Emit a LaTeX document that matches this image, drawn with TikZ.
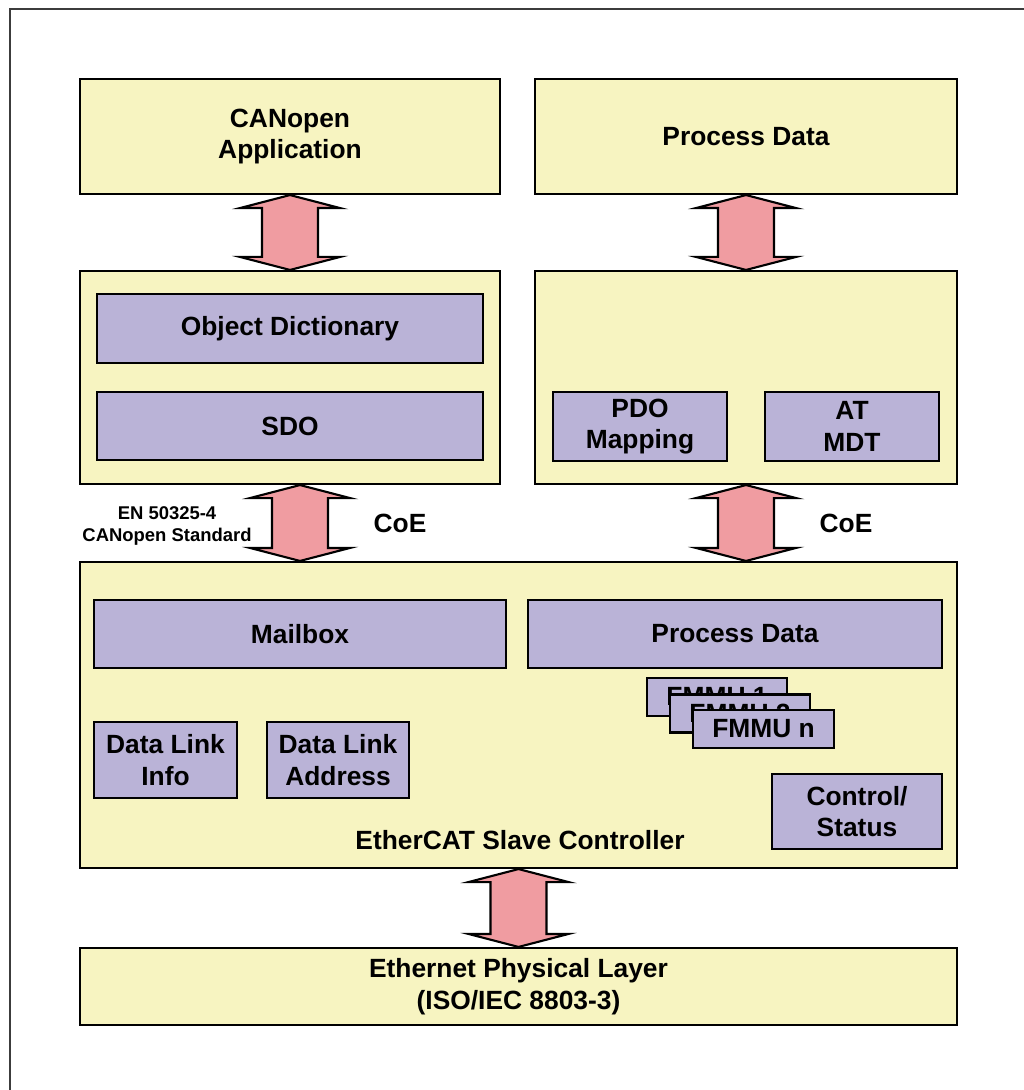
\documentclass[tikz,border=0pt]{standalone}
\usepackage{fontspec}
\setmainfont{Liberation Sans}
\usepackage{xcolor}
\usepackage{tikz}
\usetikzlibrary{calc}

\definecolor{layeryellow}{RGB}{247,244,193}
\definecolor{blockviolet}{RGB}{186,179,215}
\definecolor{arrowpink}{RGB}{240,156,161}
\definecolor{framegray}{RGB}{60,60,60}

\begin{document}
\begin{tikzpicture}[font=\bfseries\fontsize{15}{18}\selectfont,
    layer/.style={draw, line width=1.2pt, fill=layeryellow, align=center, inner sep=0pt},
    block/.style={draw, line width=1.2pt, fill=blockviolet, align=center, inner sep=0pt},
    dblarrow/.style={draw, line width=1.2pt, fill=arrowpink, line join=miter,
      to path={let \p1=(\tikztostart), \p2=(\tikztotarget) in
        (\x1,\y1) -- (\x1+1cm,\y1-0.26cm) -- (\x1+0.56cm,\y1-0.26cm)
        -- (\x1+0.56cm,\y2+0.26cm) -- (\x1+1cm,\y2+0.26cm) -- (\x1,\y2)
        -- (\x1-1cm,\y2+0.26cm) -- (\x1-0.56cm,\y2+0.26cm)
        -- (\x1-0.56cm,\y1-0.26cm) -- (\x1-1cm,\y1-0.26cm) -- cycle}}]
      \useasboundingbox (0,0) rectangle (20.46,-21.8);

      % frame
      \draw[framegray, line width=0.8pt] (0.2,-21.9) -- (0.2,-0.18) -- (20.6,-0.18);

      % upper layers
      \node[layer, minimum width=8.4cm,  minimum height=2.3cm]  (APP) at ( 5.80, -2.73) {CANopen\\Application};
      \node[layer, minimum width=8.44cm, minimum height=2.3cm]  (PDT) at (14.92, -2.73) {Process Data};
      \node[layer, minimum width=8.4cm,  minimum height=4.26cm] (LM)  at ( 5.80, -7.55) {};
      \node[layer, minimum width=8.44cm, minimum height=4.26cm] (RM)  at (14.92, -7.55) {};

      \node[block, minimum width=7.72cm, minimum height=1.38cm] (OD)  at ( 5.80, -6.57) {Object Dictionary};
      \node[block, minimum width=7.72cm, minimum height=1.36cm] (SDO) at ( 5.80, -8.52) {SDO};
      \node[block, minimum width=3.48cm, minimum height=1.38cm] (PDO) at (12.80, -8.53) {PDO\\Mapping};
      \node[block, minimum width=3.48cm, minimum height=1.38cm] (AT)  at (17.04, -8.53) {AT\\MDT};

      % slave controller
      \node[layer, minimum width=17.54cm, minimum height=6.12cm] (ESC) at (10.37, -14.30) {};
      \node[block, minimum width=8.24cm, minimum height=1.36cm] (MB)  at ( 6.00, -12.68) {Mailbox};
      \node[block, minimum width=8.28cm, minimum height=1.36cm] (PDE) at (14.70, -12.68) {Process Data};
      \node[block, minimum width=2.8cm,  minimum height=0.76cm] (FM1) at (14.34, -13.94) {FMMU 1};
      \node[block, minimum width=2.8cm,  minimum height=0.76cm] (FM2) at (14.80, -14.27) {FMMU 2};
      \node[block, minimum width=2.82cm, minimum height=0.76cm] (FM3) at (15.27, -14.58) {FMMU n};
      \node[block, minimum width=2.86cm, minimum height=1.52cm] (DLI) at ( 3.31, -15.20) {Data Link\\Info};
      \node[block, minimum width=2.84cm, minimum height=1.52cm] (DLA) at ( 6.76, -15.20) {Data Link\\Address};
      \node[block, minimum width=3.4cm,  minimum height=1.5cm]  (CS)  at (17.14, -16.23) {Control/\\Status};
      \node (ESCL) at (10.40, -16.80) {EtherCAT Slave Controller};

      % physical layer
      \node[layer, minimum width=17.54cm, minimum height=1.54cm] (EPL) at (10.37, -19.73) {Ethernet Physical Layer\\(ISO/IEC 8803-3)};

      % labels
      \node (COEL) at ( 8.00, -10.46) {CoE};
      \node (COER) at (16.92, -10.46) {CoE};
      \node[align=center, font=\bfseries\fontsize{10.5}{12.5}\selectfont] (STD) at (3.34, -10.52) {EN 50325-4\\CANopen Standard};

      % arrows
      \coordinate (L1) at ([xshift=2mm]LM.south);
      \coordinate (L2) at ([xshift=2mm]ESC.north);
      \draw[dblarrow] (APP.south) to (LM.north);
      \draw[dblarrow] (PDT.south) to (RM.north);
      \draw[dblarrow] (L1) to (L2);
      \draw[dblarrow] (RM.south) to (ESC.north);
      \draw[dblarrow] (ESC.south) to (EPL.north);
\end{tikzpicture}
\end{document}
